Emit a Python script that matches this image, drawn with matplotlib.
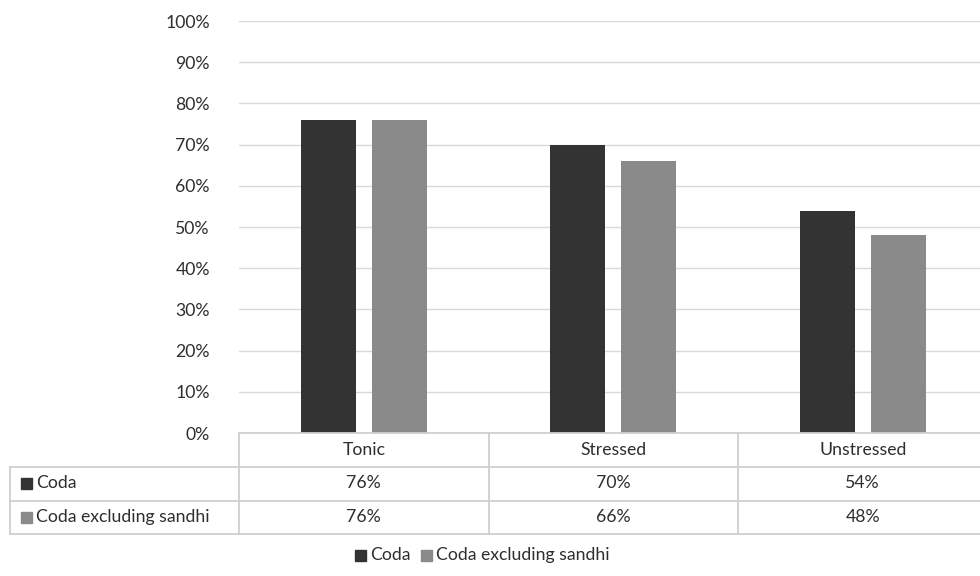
import matplotlib
matplotlib.use("Agg")
import matplotlib.pyplot as plt
from matplotlib.lines import Line2D
from matplotlib.patches import Rectangle
from matplotlib.transforms import blended_transform_factory
import numpy as np

categories = ["Tonic", "Stressed", "Unstressed"]
series_names = ["Coda", "Coda excluding sandhi"]
coda = [76, 70, 54]
coda_excl = [76, 66, 48]
yticks = [0, 10, 20, 30, 40, 50, 60, 70, 80, 90, 100]

colors = ["#333333", "#8a8a8a"]
text_color = "#2e2e2e"
line_color = "#d0d0d0"

plt.rcParams["font.family"] = ["Lato", "DejaVu Sans"]
FS = 12.7

W, H = 980, 576
fig = plt.figure(figsize=(W / 100, H / 100), dpi=100)

def fx(px):
    return px / W

def fy(py):
    return 1 - py / H

ax_left, ax_right, ax_top, ax_bottom = 239, 987.5, 21, 433
ax = fig.add_axes([fx(ax_left), fy(ax_bottom), fx(ax_right - ax_left), (ax_bottom - ax_top) / H])
ax.set_xlim(-0.5, 2.5)
ax.set_ylim(0, 100)

x = np.arange(len(categories))
bw = 0.22
off = 0.143
ax.bar(x - off, coda, bw, color=colors[0], zorder=3)
ax.bar(x + off, coda_excl, bw, color=colors[1], zorder=3)

ax.set_yticks(yticks)
ax.set_yticklabels([f"{v}%" for v in yticks], fontsize=FS, color=text_color)
ax.tick_params(axis="y", length=0, pad=21)
ax.set_xticks([])
ax.yaxis.grid(True, color="#d9d9d9", linewidth=1.0, zorder=0)
for s in ax.spines.values():
    s.set_visible(False)

# data table beneath the plot
trans = blended_transform_factory(ax.transData, fig.transFigure)
row_y = [433, 466.5, 500.5, 534]
lw = 1.3
# horizontal rules
for i, yy in enumerate(row_y):
    x0 = ax_left if i == 0 else 10
    fig.add_artist(Line2D([fx(x0), fx(ax_right)], [fy(yy), fy(yy)], transform=fig.transFigure,
                          color=line_color, linewidth=lw))
# vertical rules
fig.add_artist(Line2D([fx(10), fx(10)], [fy(row_y[1]), fy(row_y[3])], transform=fig.transFigure,
                      color=line_color, linewidth=lw))
for b in [-0.5, 0.5, 1.5, 2.5]:
    fig.add_artist(Line2D([b, b], [fy(row_y[0]), fy(row_y[3])], transform=trans,
                          color=line_color, linewidth=lw))

# header and values
for i, c in enumerate(categories):
    yc = fy((row_y[0] + row_y[1]) / 2)
    fig.text(i, yc, c, transform=trans, ha="center", va="center", fontsize=FS, color=text_color)
    for r, vals in enumerate([coda, coda_excl]):
        yc = fy((row_y[r + 1] + row_y[r + 2]) / 2)
        fig.text(i, yc, f"{vals[i]}%", transform=trans, ha="center", va="center",
                 fontsize=FS, color=text_color)

# row labels with colour keys
for r, name in enumerate(series_names):
    yc = (row_y[r + 1] + row_y[r + 2]) / 2
    sq = 11
    fig.add_artist(Rectangle((fx(21), fy(yc + sq / 2)), fx(sq), sq / H,
                             transform=fig.transFigure, color=colors[r]))
    fig.text(fx(36), fy(yc), name, ha="left", va="center", fontsize=FS, color=text_color)

# legend
leg_y = 555
for px, name, col in [(355, series_names[0], colors[0]), (421, series_names[1], colors[1])]:
    sq = 11
    fig.add_artist(Rectangle((fx(px), fy(leg_y + sq / 2)), fx(sq), sq / H,
                             transform=fig.transFigure, color=col))
    fig.text(fx(px + 15), fy(leg_y), name, ha="left", va="center", fontsize=FS, color=text_color)

fig.savefig("out.png", dpi=100)
